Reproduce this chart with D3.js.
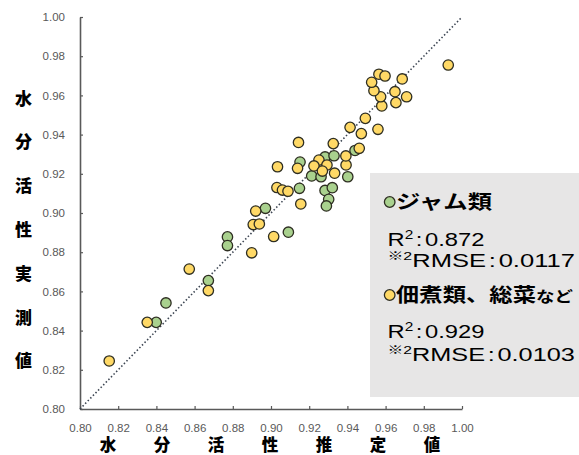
<!DOCTYPE html>
<html><head><meta charset="utf-8">
<script src="https://cdn.jsdelivr.net/npm/d3@7"></script>
<style>body{margin:0;background:#fff} svg{display:block}</style>
</head><body><svg id="c" width="579" height="455"></svg>
<script>
// ---- data ----
const jamX = [0.8399,0.8450,0.8672,0.8772,0.8772,0.8971,0.9091,0.9152,0.9149,0.9213,0.9262,0.9283,0.9330,0.9402,0.9440,0.9283,0.9321,0.9302,0.9290];
const jamY = [0.8442,0.8541,0.8655,0.8878,0.8834,0.9024,0.8902,0.9260,0.9126,0.9189,0.9185,0.9286,0.9292,0.9185,0.9319,0.9115,0.9129,0.9070,0.9036];
const otherX = [0.8153,0.8352,0.8572,0.8672,0.8899,0.8920,0.8907,0.8939,0.9014,0.9034,0.9031,0.9060,0.9089,0.9144,0.9139,0.9156,0.9251,0.9225,0.9293,0.9269,0.9333,0.9393,0.9392,0.9326,0.9462,0.9414,0.9473,0.9560,0.9494,0.9580,0.9654,0.9710,0.9649,0.9574,0.9539,0.9527,0.9565,0.9597,0.9687,0.9928];
const otherY = [0.8245,0.8442,0.8714,0.8604,0.8797,0.9010,0.8941,0.8944,0.8880,0.9236,0.9130,0.9117,0.9111,0.9360,0.9228,0.9046,0.9270,0.9240,0.9245,0.9214,0.9203,0.9245,0.9291,0.9354,0.9330,0.9437,0.9405,0.9427,0.9483,0.9546,0.9563,0.9593,0.9619,0.9593,0.9624,0.9667,0.9708,0.9699,0.9684,0.9755];
const tickValues = [0.80,0.82,0.84,0.86,0.88,0.90,0.92,0.94,0.96,0.98,1.00];
const xTitleChars = ["水","分","活","性","推","定","値"];
const yTitleChars = ["水","分","活","性","実","測","値"];
const seriesNames = ["ジャム類","佃煮類、総菜"];
const seriesSuffix = ["","など"];
const r2Values = ["0.872","0.929"];
const rmseValues = ["0.0117","0.0103"];
const seriesColors = ["#a9d18e","#ffd966"];

// ---- chart ----
const svg = d3.select("#c");
svg.append("rect").attr("width",579).attr("height",455).attr("fill","#fff");
const x = d3.scaleLinear([0.8,1.0],[80,462]);
const y = d3.scaleLinear([0.8,1.0],[409,17]);
const fmt = d3.format(".2f");

function styleAxis(g){
  g.select(".domain").attr("stroke","#595959").attr("stroke-width",1.6);
  g.selectAll(".tick line").attr("stroke","#595959").attr("stroke-width",1.2);
  g.selectAll(".tick text").attr("fill","#595959").attr("font-size","11.5px").attr("font-family","'Liberation Sans', Arial, sans-serif");
}
svg.append("g").attr("transform","translate(80,0)")
  .call(d3.axisLeft(y).tickValues(tickValues).tickFormat(fmt).tickSizeInner(-3).tickSizeOuter(0).tickPadding(15))
  .call(styleAxis);
svg.append("g").attr("transform","translate(0,409)")
  .call(d3.axisBottom(x).tickValues(tickValues).tickFormat(fmt).tickSizeInner(-3).tickSizeOuter(0).tickPadding(14.5))
  .call(styleAxis);

// diagonal 1:1 line
svg.append("line")
  .attr("x1",x(0.8)).attr("y1",y(0.8)).attr("x2",x(1.0)).attr("y2",y(1.0))
  .attr("stroke","#3d4653").attr("stroke-width",1.6).attr("stroke-dasharray","1.5 2.2");

// points
function drawSeries(xs, ys, color){
  svg.append("g").selectAll("circle").data(xs.map((v,i)=>[v,ys[i]])).join("circle")
    .attr("cx",d=>x(d[0])).attr("cy",d=>y(d[1])).attr("r",5.2)
    .attr("fill",color).attr("stroke","#2e2e22").attr("stroke-width",1.3);
}
drawSeries(jamX, jamY, seriesColors[0]);
drawSeries(otherX, otherY, seriesColors[1]);

// axis titles
const cjk = "'Noto Sans CJK JP', 'Noto Sans CJK SC', sans-serif";
svg.append("g").selectAll("text").data(yTitleChars).join("text")
  .attr("x",23.5).attr("y",(d,i)=>97 + i*43.8)
  .attr("text-anchor","middle").attr("dominant-baseline","central")
  .attr("font-family",cjk).attr("font-weight",900).attr("font-size","17px").attr("fill","#000")
  .text(d=>d);
svg.append("g").selectAll("text").data(xTitleChars).join("text")
  .attr("x",(d,i)=>108 + i*54).attr("y",450.5)
  .attr("text-anchor","middle")
  .attr("font-family",cjk).attr("font-weight",900).attr("font-size","16.5px").attr("fill","#000")
  .text(d=>d);

// legend box
svg.append("rect").attr("x",370).attr("y",173).attr("width",215).attr("height",224).attr("fill","#e7e6e6");

function fitWidth(t, x0, w){
  const bb = t.node().getBBox();
  const s = w / bb.width;
  t.attr("transform",`translate(${x0},0) scale(${s},1) translate(${-x0},0)`);
}
const latin = "'Liberation Sans', Arial, sans-serif";
const headY = [202, 295];
const headW = [96, 177];
const r2Base = [246, 338.3];
const rmseBase = [266.7, 360.7];
for (let k=0;k<2;k++){
  svg.append("circle").attr("cx",389.7).attr("cy",headY[k]).attr("r",5.3)
    .attr("fill",seriesColors[k]).attr("stroke","#2e2e22").attr("stroke-width",1.3);
  const h = svg.append("text").attr("x",396).attr("y",headY[k]+7)
    .attr("font-family",cjk).attr("font-weight",700).attr("font-size","19px").attr("fill","#000");
  h.append("tspan").text(seriesNames[k]);
  if (seriesSuffix[k]) h.append("tspan").attr("font-size","15px").text(seriesSuffix[k]);
  fitWidth(h, 396, headW[k]);

  const r = svg.append("text").attr("x",387.5).attr("y",r2Base[k])
    .attr("font-family",latin).attr("font-size","18.5px").attr("fill","#000");
  r.append("tspan").text("R");
  r.append("tspan").attr("font-size","12px").attr("dy",-7).text("2");
  r.append("tspan").attr("dy",7).attr("dx",2).text(":");
  r.append("tspan").attr("dx",2).text(r2Values[k]);
  fitWidth(r, 387.5, 97);

  const m = svg.append("text").attr("x",387.5).attr("y",rmseBase[k])
    .attr("font-family",latin).attr("font-size","18.5px").attr("fill","#000");
  m.append("tspan").attr("font-size","11.5px").attr("dy",-6.5).attr("font-family",cjk).text("※");
  m.append("tspan").attr("font-size","11.5px").text("2");
  m.append("tspan").attr("dy",6.5).text("RMSE");
  m.append("tspan").attr("dx",2).text(":");
  m.append("tspan").attr("dx",2).text(rmseValues[k]);
  fitWidth(m, 387.5, 187.5);
}
</script></body></html>
